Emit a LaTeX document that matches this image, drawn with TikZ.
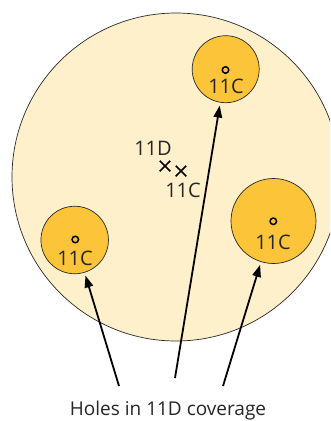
\documentclass[tikz,border=0pt]{standalone}
\usepackage{fontspec}
\setmainfont{Open Sans}
\usetikzlibrary{arrows.meta,shapes.misc}
\definecolor{lightfill}{RGB}{255,240,204}
\definecolor{darkfill}{RGB}{252,196,56}
\definecolor{edgecol}{RGB}{40,40,40}
\tikzset{
  hole/.style={circle, draw=edgecol, line width=0.7pt, fill=darkfill, inner sep=0pt},
  site/.style={circle, draw=black, line width=1.5pt, inner sep=0pt, minimum size=6.5pt},
  lab/.style={inner sep=0pt, font=\fontsize{20}{20}\selectfont, text=black!85},
  caplab/.style={inner sep=0pt, font=\fontsize{19}{19}\selectfont, text=black!85},
  pointer/.style={-{Triangle[length=12pt,width=8.5pt]}, line width=1.8pt, shorten >=3pt},
  xmark/.style={cross out, draw=black, line width=1.5pt, inner sep=0pt, minimum size=9pt}
}
\begin{document}
\begin{tikzpicture}[x=1pt,y=-1pt]
\useasboundingbox (0,0) rectangle (330,421);
\begin{scope}
\clip (0,0) rectangle (330,421);
\node[circle, draw=edgecol, line width=0.7pt, fill=lightfill, minimum size=328pt, inner sep=0pt] (big) at (176,177) {};
\end{scope}
% holes
\node[hole, minimum size=67pt] (top) at (225.7,69.2) {};
\node[hole, minimum size=67.5pt] (left) at (74.7,240) {};
\node[hole, minimum size=85pt] (right) at (273.5,221) {};
\node[site] (ptop) at (225.5,70) {};
\node[site] (pleft) at (75.3,239.5) {};
\node[site] (pright) at (273.3,221.3) {};
\node[lab] (ltop) at (226,86) {11C};
\node[lab] (lleft) at (75,258) {11C};
\node[lab] (lright) at (273,242.5) {11C};
% centre marks
\node[xmark] (xd) at (165,166) {};
\node[xmark] (xc) at (181,171) {};
\node[lab] (l11d) at (153,148) {11D};
\node[lab] (l11c) at (183,190.5) {11C};
% caption and arrows
\node[caplab] (cap) at (168,411) {Holes in 11D coverage};
\coordinate (s1) at (119,386);
\coordinate (s2) at (175,378);
\coordinate (s3) at (223,386);
\draw[pointer] (s1) -- (left);
\draw[pointer] (s2) -- (top);
\draw[pointer] (s3) -- (right);
\end{tikzpicture}
\end{document}
